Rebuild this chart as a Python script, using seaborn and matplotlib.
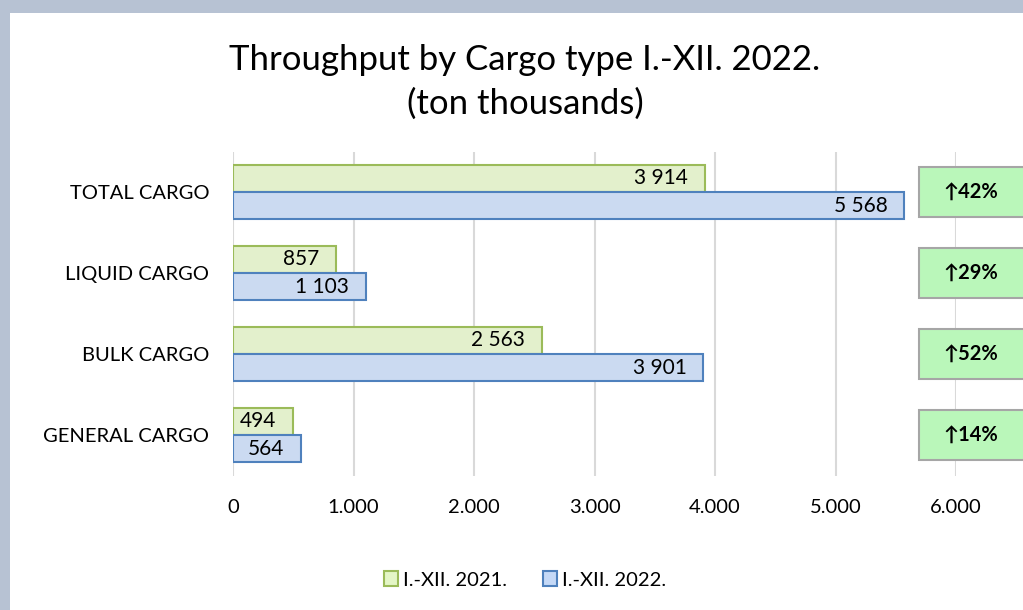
import matplotlib
matplotlib.use("Agg")
import matplotlib.pyplot as plt
import matplotlib.patches as mpatches
import matplotlib.ticker as mticker
import pandas as pd
import seaborn as sns

categories = ["TOTAL CARGO", "LIQUID CARGO", "BULK CARGO", "GENERAL CARGO"]
series_names = ["I.-XII. 2021.", "I.-XII. 2022."]
values_2021 = [3914, 857, 2563, 494]
values_2022 = [5568, 1103, 3901, 564]
change_labels = ["42%", "29%", "52%", "14%"]

green_face, green_edge = "#E4F6C6", "#9BBB59"
blue_face, blue_edge = "#C5D9F7", "#4F81BD"

df = pd.DataFrame({
    "cargo": categories * 2,
    "period": [series_names[0]] * 4 + [series_names[1]] * 4,
    "tons": values_2021 + values_2022,
})

sns.set_style("white")
plt.rcParams["font.family"] = ["Lato", "DejaVu Sans"]
plt.rcParams["text.color"] = "black"
plt.rcParams["xtick.color"] = "black"
plt.rcParams["ytick.color"] = "black"

fig = plt.figure(figsize=(10.23, 6.1), dpi=100)
fig.patch.set_facecolor("#B7C2D3")
# white chart panel on top of the background
fig.patches.append(mpatches.Rectangle((10 / 1023, 0), 1, 1 - 13 / 610,
                                      transform=fig.transFigure, facecolor="white",
                                      edgecolor="none", zorder=-10))

ax = fig.add_axes([233 / 1023, 1 - 475.5 / 610, (956 - 233) / 1023, 324 / 610])
ax.set_facecolor("none")

sns.barplot(data=df, y="cargo", x="tons", hue="period", hue_order=series_names,
            order=categories, orient="h", width=0.667,
            palette=[green_face, blue_face], ax=ax, legend=False, zorder=3)

edges = [green_edge, blue_edge]
for container, edge in zip(ax.containers, edges):
    for bar in container:
        bar.set_edgecolor(edge)
        bar.set_linewidth(1.5)
    labels = [f"{int(v):,}".replace(",", " ") for v in container.datavalues]
    ax.bar_label(container, labels=labels, padding=-12, fontsize=15,
                 color="black", zorder=4)

# right-align labels just inside bar ends
for t in ax.texts:
    t.set_ha("right")

ax.set_xlim(0, 6000)
ax.set_ylim(3.5, -0.5)
ax.xaxis.set_major_locator(mticker.MultipleLocator(1000))
ax.xaxis.set_major_formatter(mticker.FuncFormatter(
    lambda v, p: "0" if v == 0 else f"{int(v):,}".replace(",", ".")))
ax.grid(axis="x", color="#D9D9D9", linewidth=1.5, zorder=0)
ax.grid(axis="y", visible=False)
ax.set_axisbelow(True)
for s in ax.spines.values():
    s.set_visible(False)
ax.tick_params(axis="x", length=0, pad=17, labelsize=14.5)
ax.tick_params(axis="y", length=0, pad=17, labelsize=14.5)
ax.set_xlabel("")
ax.set_ylabel("")

# change boxes on the right
for i, lab in enumerate(change_labels):
    ax.add_patch(mpatches.Rectangle((5693, i - 0.31), 2000, 0.62,
                                    facecolor="#BAF7BA", edgecolor="#A6A6A6",
                                    linewidth=1.5, clip_on=False, zorder=5))
    ax.text(6120, i, "\u2191" + lab, ha="center", va="center", fontsize=14.5,
            fontweight="bold", clip_on=False, zorder=6)

fig.text(525 / 1023, 1 - 60 / 610, "Throughput by Cargo type I.-XII. 2022.",
         ha="center", va="center", fontsize=25)
fig.text(525 / 1023, 1 - 104 / 610, "(ton thousands)",
         ha="center", va="center", fontsize=25)

handles = [mpatches.Patch(facecolor=green_face, edgecolor=green_edge, linewidth=1.5,
                          label=series_names[0]),
           mpatches.Patch(facecolor=blue_face, edgecolor=blue_edge, linewidth=1.5,
                          label=series_names[1])]
fig.legend(handles=handles, loc="center", bbox_to_anchor=(525 / 1023, 1 - 580 / 610),
           ncol=2, frameon=False, fontsize=14.5, handlelength=0.7, handleheight=0.7,
           handletextpad=0.25, columnspacing=1.8)

fig.savefig("out.png", dpi=100, facecolor=fig.get_facecolor())
